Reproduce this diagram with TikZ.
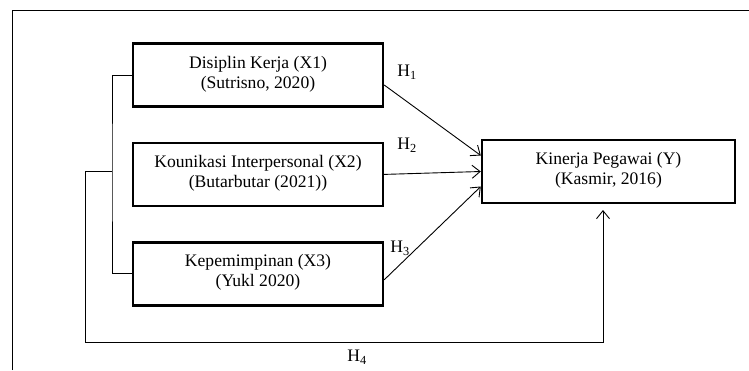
\documentclass[tikz,border=0pt]{standalone}
\usepackage{fontspec}
\setmainfont{Liberation Serif}
\usepackage{tikz}
\usetikzlibrary{arrows.meta,positioning}

\begin{document}
\begin{tikzpicture}[x=1pt,y=-1pt,
  var/.style={draw,line width=2.4pt,align=center,minimum width=250pt,minimum height=63pt,
    font=\fontsize{17.6}{20}\selectfont,inner sep=0pt,text depth=6pt},
  hlab/.style={font=\fontsize{17.6}{20}\selectfont,inner sep=0pt},
  conn/.style={line width=0.9pt},
  arrow/.style={conn,-{Straight Barb[length=8pt,width=13pt]}}
]
  \useasboundingbox (0,0) rectangle (749,370);
  \draw[conn] (12,370) -- (12,10) -- (749,10);

  \node[var] (x1) at (258,75) {Disiplin Kerja (X1)\\(Sutrisno, 2020)};
  \node[var,below=34pt of x1] (x2) {Kounikasi Interpersonal (X2)\\(Butarbutar (2021))};
  \node[var,below=34pt of x2] (x3) {Kepemimpinan (X3)\\(Yukl 2020)};
  \node[var,minimum width=253pt] (y) at (608.5,171.5) {Kinerja Pegawai (Y)\\(Kasmir, 2016)};

  \node[hlab] (h1) at (407,72) {H\textsubscript{1}};
  \node[hlab] (h2) at (407,145) {H\textsubscript{2}};
  \node[hlab] (h3) at (400,248) {H\textsubscript{3}};
  \node[hlab] (h4) at (357,357) {H\textsubscript{4}};

  % hipotesis parsial
  \draw[arrow] ([yshift=-10pt]x1.east) -- ([yshift=16pt]y.west);
  \draw[arrow] (x2.east) -- (y.west);
  \draw[arrow] ([yshift=-6pt]x3.east) -- ([yshift=-15pt]y.west);

  % hipotesis simultan
  \coordinate (brk) at (112,171);
  \coordinate (h4l) at (85,342);
  \coordinate (h4r) at (603,342);
  \coordinate (ytip) at (603,210);
  \draw[conn] (x1.west) -| (brk) |- (x3.west);
  \draw[arrow] (brk) -| (h4l) -- (h4r) -- (ytip);
\end{tikzpicture}
\end{document}
